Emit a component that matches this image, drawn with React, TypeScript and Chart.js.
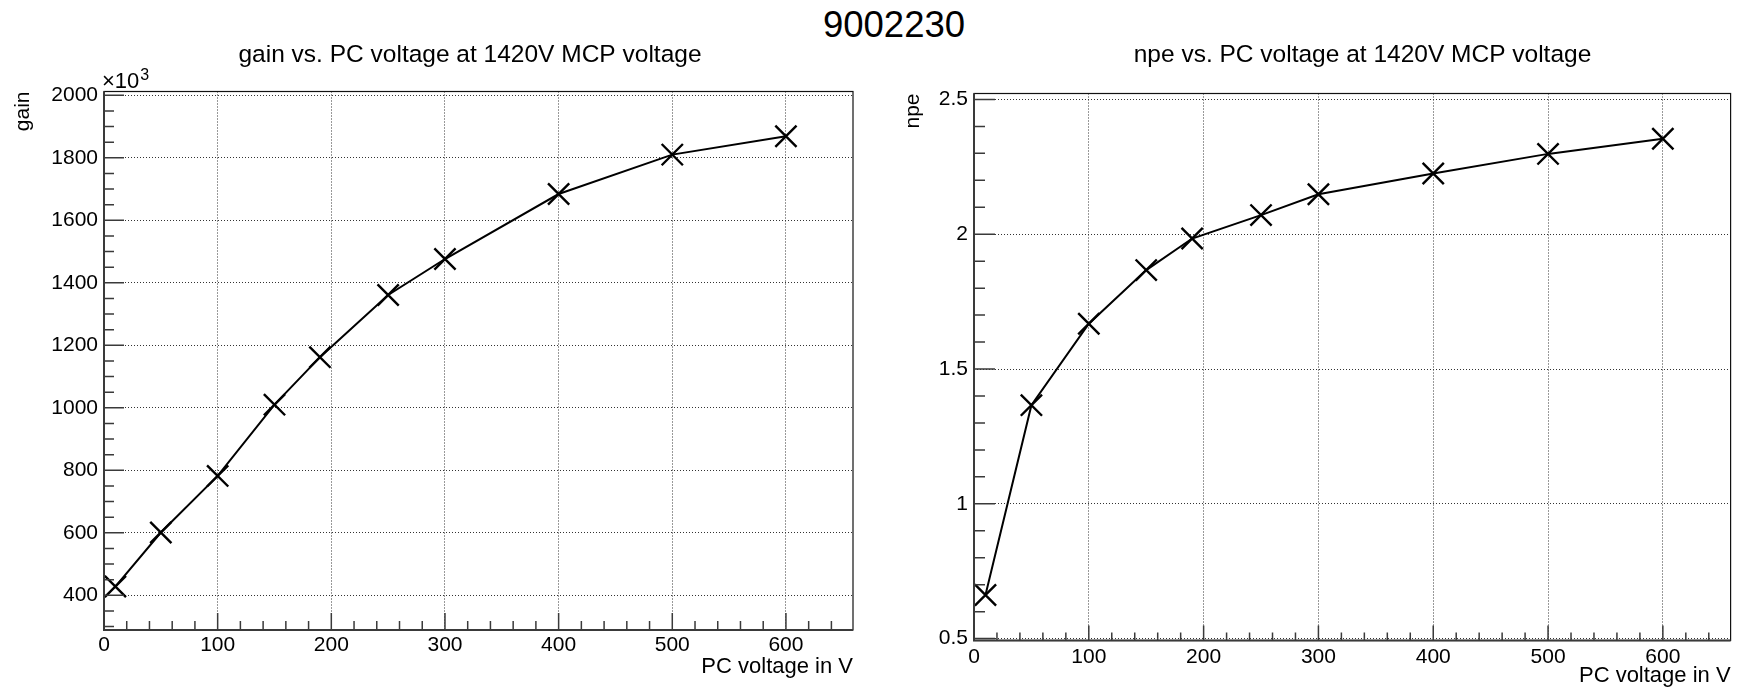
import React, { useEffect, useRef } from 'react';
import { Chart, registerables } from 'chart.js';

Chart.register(...registerables);

// ---------- data ----------
const mainTitle = '9002230';
const pcVoltage = [10, 50, 100, 150, 190, 250, 300, 400, 500, 600];
const gainValues = [428, 601, 782, 1010, 1162, 1361, 1476, 1684, 1810, 1869];
const npeValues = [0.662, 1.366, 1.668, 1.867, 1.984, 2.071, 2.148, 2.225, 2.298, 2.354];

const xTicks = [0, 100, 200, 300, 400, 500, 600];
const xTickLabels = ['0', '100', '200', '300', '400', '500', '600'];
const gainTicks = [400, 600, 800, 1000, 1200, 1400, 1600, 1800, 2000];
const gainTickLabels = ['400', '600', '800', '1000', '1200', '1400', '1600', '1800', '2000'];
const npeTicks = [0.5, 1, 1.5, 2, 2.5];
const npeTickLabels = ['0.5', '1', '1.5', '2', '2.5'];

const gainTitle = 'gain vs. PC voltage at 1420V MCP voltage';
const npeTitle = 'npe vs. PC voltage at 1420V MCP voltage';
const xAxisTitle = 'PC voltage in V';
const gainAxisTitle = 'gain';
const npeAxisTitle = 'npe';
const gainMultiplierBase = '\u00d710';
const gainMultiplierExp = '3';

const FONT = '"Liberation Sans", Arial, Helvetica, sans-serif';

// ---------- panel plugin: frame, inward ticks, titles ----------
const panelPlugin = {
  id: 'panel',
  afterDraw(chart: any, _args: any, opts: any) {
    const { ctx, chartArea: a, scales } = chart;
    const xs = scales.x;
    const ys = scales.y;
    ctx.save();
    ctx.setLineDash([]);

    // frame
    ctx.strokeStyle = '#111';
    ctx.lineWidth = 1.2;
    ctx.strokeRect(a.left, a.top, a.right - a.left, a.bottom - a.top);
    // axes (left / bottom)
    ctx.strokeStyle = '#3a3a3a';
    ctx.lineWidth = 2;
    ctx.beginPath();
    ctx.moveTo(a.left, a.top);
    ctx.lineTo(a.left, a.bottom);
    ctx.lineTo(a.right, a.bottom);
    ctx.stroke();

    // x ticks (inward)
    ctx.lineWidth = 1.5;
    ctx.beginPath();
    const xMinorN0 = Math.ceil(xs.min / opts.xMinorStep);
    const xMinorN1 = Math.floor(xs.max / opts.xMinorStep);
    for (let k = xMinorN0; k <= xMinorN1; k++) {
      const v = k * opts.xMinorStep;
      const isMajor = opts.xMajor.some((m: number) => Math.abs(m - v) < 1e-6);
      const px = xs.getPixelForValue(v);
      const len = isMajor ? opts.xMajorLen : opts.xMinorLen;
      ctx.moveTo(px, a.bottom);
      ctx.lineTo(px, a.bottom - len);
    }
    // y ticks (inward)
    const yMinorN0 = Math.ceil(ys.min / opts.yMinorStep - 1e-9);
    const yMinorN1 = Math.floor(ys.max / opts.yMinorStep + 1e-9);
    for (let k = yMinorN0; k <= yMinorN1; k++) {
      const v = k * opts.yMinorStep;
      const isMajor = opts.yMajor.some((m: number) => Math.abs(m - v) < 1e-6);
      const py = ys.getPixelForValue(v);
      const len = isMajor ? opts.yMajorLen : opts.yMinorLen;
      ctx.moveTo(a.left, py);
      ctx.lineTo(a.left + len, py);
    }
    ctx.stroke();

    // panel title
    ctx.fillStyle = '#000';
    ctx.font = `${opts.titleSize}px ${FONT}`;
    ctx.textAlign = 'center';
    ctx.textBaseline = 'middle';
    ctx.fillText(opts.title, opts.titleX, opts.titleY);

    // multiplier label
    if (opts.multBase) {
      ctx.textAlign = 'left';
      ctx.textBaseline = 'alphabetic';
      ctx.font = `22px ${FONT}`;
      ctx.fillText(opts.multBase, opts.multX, opts.multY);
      const w = ctx.measureText(opts.multBase).width;
      ctx.font = `16px ${FONT}`;
      ctx.fillText(opts.multExp, opts.multX + w + 1, opts.multY - 8);
    }
    ctx.restore();
  },
};

interface PanelCfg {
  title: string;
  titleX: number;
  titleY: number;
  values: number[];
  yTicks: number[];
  yTickLabels: string[];
  yMin: number;
  yMax: number;
  yMinorStep: number;
  yTitle: string;
  yTitleSize: number;
  yTitlePad: number;
  xTitlePad: number;
  padTop: number;
  padRight: number;
  xAxisHeight: number;
  yAxisWidth: number;
  xLabelPad: number;
  xMajorLen: number;
  xMinorLen: number;
  yMajorLen: number;
  yMinorLen: number;
  multBase?: string;
  multExp?: string;
}

function Panel({ cfg, left }: { cfg: PanelCfg; left: number }) {
  const ref = useRef<HTMLCanvasElement | null>(null);
  useEffect(() => {
    if (!ref.current) return;
    const chart = new Chart(ref.current, {
      type: 'line',
      data: {
        datasets: [
          {
            data: pcVoltage.map((x, i) => ({ x, y: cfg.values[i] })),
            borderColor: '#000',
            borderWidth: 2,
            pointStyle: 'crossRot',
            pointRadius: 15,
            pointBorderWidth: 2.4,
            pointBorderColor: '#000',
            pointBackgroundColor: '#000',
            tension: 0,
            fill: false,
            clip: false as any,
          },
        ],
      },
      options: {
        animation: false,
        responsive: false,
        maintainAspectRatio: false,
        events: [],
        layout: { padding: { left: 0, top: cfg.padTop, right: cfg.padRight, bottom: 0 } },
        plugins: {
          legend: { display: false },
          title: { display: false },
          tooltip: { enabled: false },
          panel: {
            title: cfg.title,
            titleX: cfg.titleX,
            titleY: cfg.titleY,
            titleSize: 24.5,
            xMajor: xTicks,
            xMinorStep: 20,
            yMajor: cfg.yTicks,
            yMinorStep: cfg.yMinorStep,
            xMajorLen: cfg.xMajorLen,
            xMinorLen: cfg.xMinorLen,
            yMajorLen: cfg.yMajorLen,
            yMinorLen: cfg.yMinorLen,
            multBase: cfg.multBase || '',
            multExp: cfg.multExp || '',
            multX: 102,
            multY: 88,
          },
        } as any,
        scales: {
          x: {
            type: 'linear',
            position: 'bottom',
            min: 0,
            max: 659,
            bounds: 'data',
            afterBuildTicks: (s: any) => {
              s.ticks = xTicks.map((v) => ({ value: v }));
            },
            afterFit: (s: any) => {
              s.height = cfg.xAxisHeight;
              s.paddingLeft = 0;
              s.paddingRight = 0;
              s.paddingTop = 0;
              s.paddingBottom = 0;
            },
            ticks: {
              callback: (v: any) => xTickLabels[xTicks.indexOf(Number(v))],
              font: { family: FONT, size: 21 },
              color: '#000',
              padding: cfg.xLabelPad,
              maxRotation: 0,
              autoSkip: false,
            },
            grid: { color: '#333', lineWidth: 1, drawTicks: false },
            border: { display: false, dash: [1, 2] },
            title: {
              display: true,
              text: xAxisTitle,
              align: 'end',
              color: '#000',
              font: { family: FONT, size: 22 },
              padding: { top: 0, bottom: cfg.xTitlePad },
            },
          },
          y: {
            type: 'linear',
            position: 'left',
            min: cfg.yMin,
            max: cfg.yMax,
            bounds: 'data',
            afterBuildTicks: (s: any) => {
              s.ticks = cfg.yTicks.map((v) => ({ value: v }));
            },
            afterFit: (s: any) => {
              s.width = cfg.yAxisWidth;
              s.paddingLeft = 0;
              s.paddingRight = 0;
              s.paddingTop = 0;
              s.paddingBottom = 0;
            },
            ticks: {
              callback: (v: any) => cfg.yTickLabels[cfg.yTicks.findIndex((t) => Math.abs(t - Number(v)) < 1e-9)],
              font: { family: FONT, size: 21 },
              color: '#000',
              padding: 6,
              autoSkip: false,
            },
            grid: { color: '#333', lineWidth: 1, drawTicks: false },
            border: { display: false, dash: [1, 2] },
            title: {
              display: true,
              text: cfg.yTitle,
              align: 'end',
              color: '#000',
              font: { family: FONT, size: cfg.yTitleSize },
              padding: { top: cfg.yTitlePad, bottom: 0 },
            },
          },
        },
      } as any,
      plugins: [panelPlugin],
    });
    return () => chart.destroy();
  }, [cfg]);

  return (
    <canvas
      ref={ref}
      width={874}
      height={689}
      style={{ position: 'absolute', left, top: 0, width: 874, height: 689 }}
    />
  );
}

const gainCfg: PanelCfg = {
  title: gainTitle,
  titleX: 470,
  titleY: 55,
  values: gainValues,
  yTicks: gainTicks,
  yTickLabels: gainTickLabels,
  yMin: 289,
  yMax: 2012,
  yMinorStep: 50,
  yTitle: gainAxisTitle,
  yTitleSize: 21,
  yTitlePad: 11,
  xTitlePad: 9,
  padTop: 91.5,
  padRight: 21,
  xAxisHeight: 59,
  yAxisWidth: 104,
  xLabelPad: 3,
  xMajorLen: 17,
  xMinorLen: 9,
  yMajorLen: 20,
  yMinorLen: 10,
  multBase: gainMultiplierBase,
  multExp: gainMultiplierExp,
};

const npeCfg: PanelCfg = {
  title: npeTitle,
  titleX: 1362.5 - 874,
  titleY: 55,
  values: npeValues,
  yTicks: npeTicks,
  yTickLabels: npeTickLabels,
  yMin: 0.493,
  yMax: 2.522,
  yMinorStep: 0.1,
  yTitle: npeAxisTitle,
  yTitleSize: 21,
  yTitlePad: 27,
  xTitlePad: 0,
  padTop: 93.5,
  padRight: 12,
  xAxisHeight: 48.5,
  yAxisWidth: 100,
  xLabelPad: 4.4,
  xMajorLen: 15,
  xMinorLen: 8,
  yMajorLen: 21,
  yMinorLen: 11,
};

export default function App() {
  useEffect(() => {
    document.body.style.margin = '0';
  }, []);
  return (
    <div
      style={{
        position: 'relative',
        width: 1748,
        height: 689,
        overflow: 'hidden',
        background: '#fff',
      }}
    >
      <div
        style={{
          position: 'absolute',
          left: 894,
          top: 6.7,
          transform: 'translateX(-50%)',
          fontFamily: FONT,
          fontSize: 36.5,
          lineHeight: '36px',
          whiteSpace: 'nowrap',
          color: '#000',
        }}
      >
        {mainTitle}
      </div>
      <Panel cfg={gainCfg} left={0} />
      <Panel cfg={npeCfg} left={874} />
    </div>
  );
}
